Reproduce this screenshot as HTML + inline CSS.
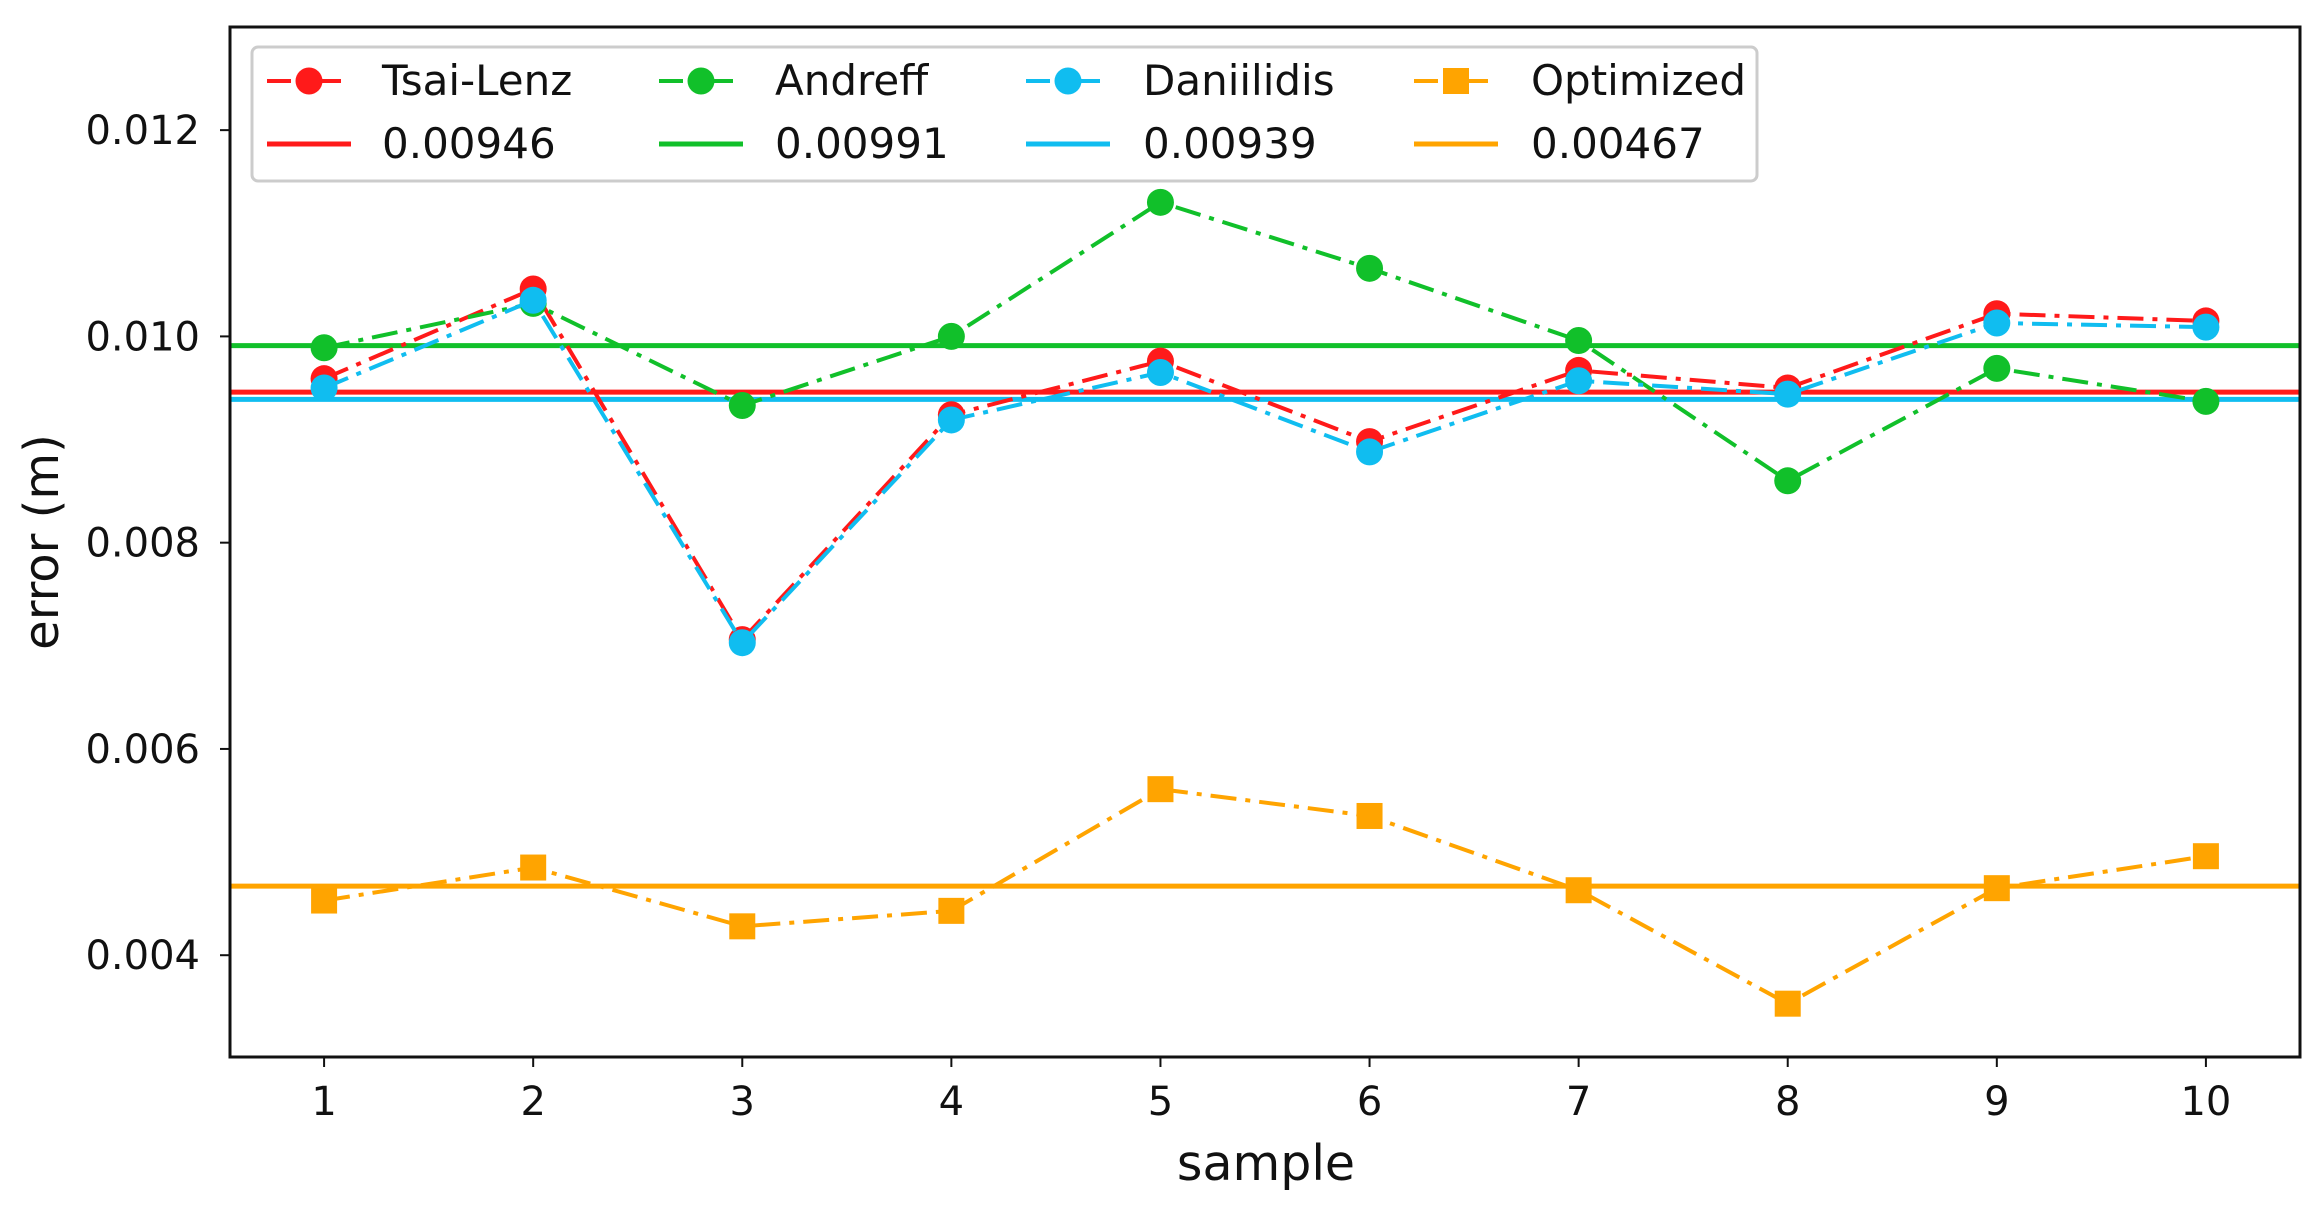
<!DOCTYPE html>
<html><head><meta charset="utf-8"><style>
body{margin:0;background:#fff;}
svg text{font-family:"DejaVu Sans","Liberation Sans",sans-serif;fill:#111;}
</style></head><body>
<svg width="2322" height="1207" xmlns="http://www.w3.org/2000/svg">
<g id="plot"></g>
</svg>
<script>
const samples=[1,2,3,4,5,6,7,8,9,10];
const tsaiLenz=[0.00959,0.01046,0.00706,0.00924,0.00976,0.00898,0.00967,0.0095,0.01022,0.01015];
const andreff=[0.00989,0.01032,0.00933,0.0100,0.0113,0.01066,0.00996,0.0086,0.00969,0.00937];
const daniilidis=[0.0095,0.01035,0.00703,0.00919,0.00965,0.00888,0.00957,0.00944,0.01013,0.01009];
const optimized=[0.00453,0.00485,0.00428,0.00443,0.00561,0.00535,0.00463,0.00353,0.00465,0.00496];
const means=[0.00946,0.00991,0.00939,0.00467];
const meanLabels=["0.00946","0.00991","0.00939","0.00467"];
const seriesNames=["Tsai-Lenz","Andreff","Daniilidis","Optimized"];
const yTicks=[0.004,0.006,0.008,0.010,0.012];
const yTickLabels=["0.004","0.006","0.008","0.010","0.012"];

const L=230,R=2300,T=27,B=1057;
const xMin=0.55,xMax=10.45,yMin=0.003013,yMax=0.013;
const xs=v=>L+(v-xMin)/(xMax-xMin)*(R-L);
const ys=v=>B-(v-yMin)/(yMax-yMin)*(B-T);
const NS="http://www.w3.org/2000/svg";
const g=document.getElementById('plot');
function mk(tag,attrs,parent){const e=document.createElementNS(NS,tag);for(const k in attrs)e.setAttribute(k,attrs[k]);(parent||g).appendChild(e);return e;}
const colors=["#ff1a1a","#11c02a","#10bdf0","#ffa400"];
const allSeries=[tsaiLenz,andreff,daniilidis,optimized];
const dash="26,9,5,9";

means.forEach((m,i)=>{
  const l=mk('line',{x1:L,x2:R,y1:ys(m),y2:ys(m),stroke:colors[i],'stroke-width':5});
  
  
});
allSeries.forEach((s,i)=>{
  const pts=s.map((v,j)=>xs(samples[j])+','+ys(v)).join(' ');
  const pl=mk('polyline',{points:pts,fill:'none',stroke:colors[i],'stroke-width':4,'stroke-dasharray':dash});
  
  
  s.forEach((v,j)=>{
    let m;
    if(i===3){m=mk('rect',{x:xs(samples[j])-13,y:ys(v)-13,width:26,height:26,fill:colors[i]});}
    else{m=mk('circle',{cx:xs(samples[j]),cy:ys(v),r:13.5,fill:colors[i]});}
    
    
  });
});
const fr=mk('rect',{x:L,y:T,width:R-L,height:B-T,fill:'none',stroke:'#111','stroke-width':3});


yTicks.forEach((t,i)=>{
  mk('line',{x1:L-10,x2:L,y1:ys(t),y2:ys(t),stroke:'#111','stroke-width':2});
  const tx=mk('text',{x:L-30,y:ys(t)+14,'text-anchor':'end','font-size':40});
  tx.textContent=yTickLabels[i];
  
  
});
samples.forEach(s=>{
  mk('line',{x1:xs(s),x2:xs(s),y1:B,y2:B+10,stroke:'#111','stroke-width':2});
  const tx=mk('text',{x:xs(s),y:B+58,'text-anchor':'middle','font-size':40});
  tx.textContent=String(s);
  
  
});
const xl=mk('text',{x:1266,y:1180,'text-anchor':'middle','font-size':49});
xl.textContent='sample';


const yl=mk('text',{x:0,y:0,'text-anchor':'middle','font-size':48,transform:'translate(58,542) rotate(-90)'});
yl.textContent='error (m)';


const lg=mk('g',{});


mk('rect',{x:252,y:47,width:1505,height:134,rx:6,fill:'#fff','fill-opacity':0.85,stroke:'#ccc','stroke-width':3},lg);
const colX=[267,659,1026,1414];
const textX=[382,775,1143,1531];
seriesNames.forEach((n,i)=>{
  const y1=81,y2=144;
  const e=mk('g',{},lg);
  
  
  mk('line',{x1:colX[i],x2:colX[i]+84,y1:y1,y2:y1,stroke:colors[i],'stroke-width':4,'stroke-dasharray':'24,10,6,10'},e);
  if(i===3) mk('rect',{x:colX[i]+29,y:y1-13,width:26,height:26,fill:colors[i]},e);
  else mk('circle',{cx:colX[i]+42,cy:y1,r:13.5,fill:colors[i]},e);
  const t1=mk('text',{x:textX[i],y:y1+14,'font-size':42},e);t1.textContent=n;
  mk('line',{x1:colX[i],x2:colX[i]+84,y1:y2,y2:y2,stroke:colors[i],'stroke-width':5},e);
  const t2=mk('text',{x:textX[i],y:y2+14,'font-size':42},e);t2.textContent=meanLabels[i];
});
</script>
</body></html>
